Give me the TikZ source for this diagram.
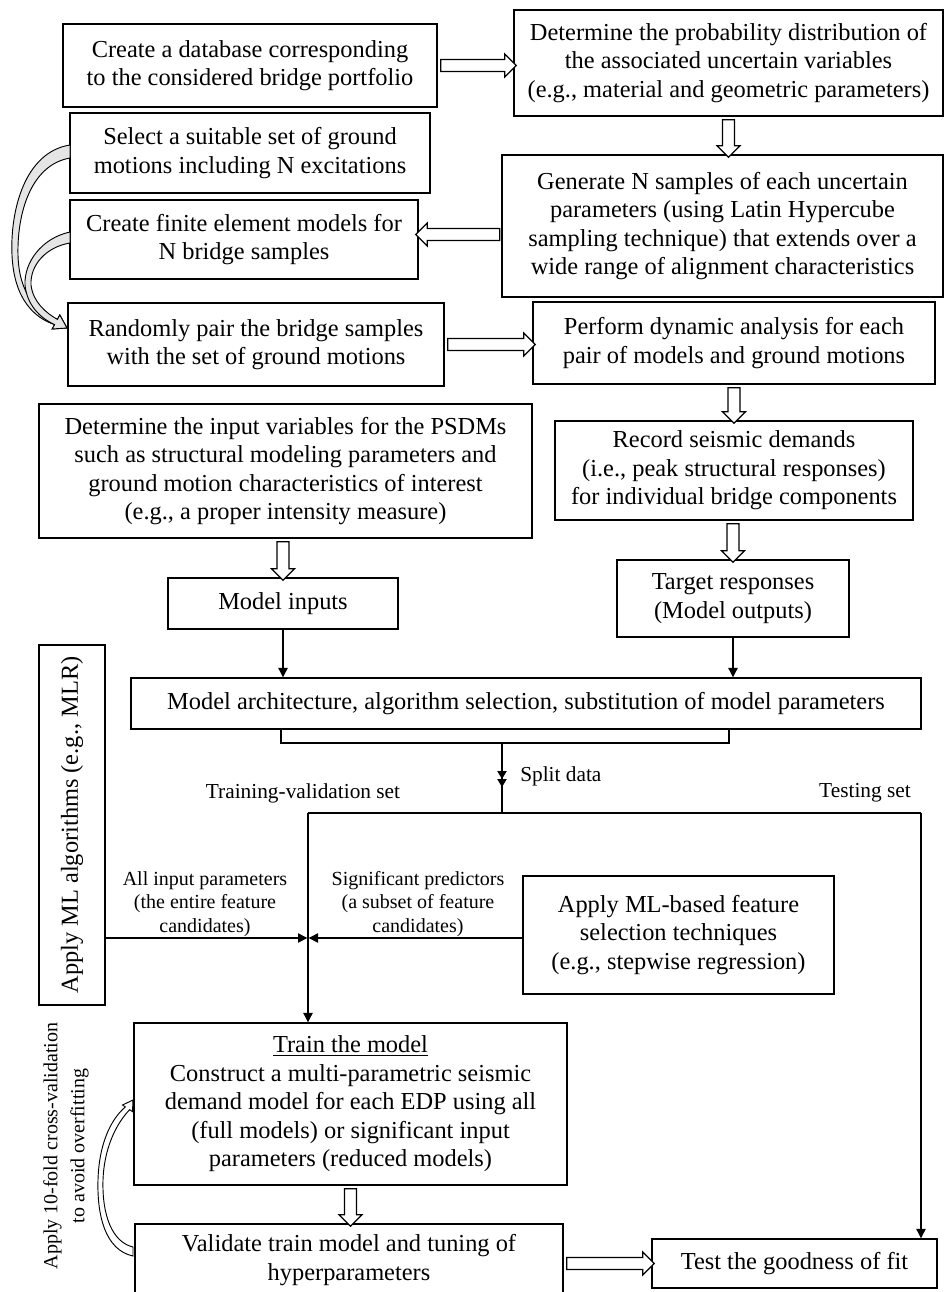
\documentclass[tikz,border=0pt]{standalone}
\usepackage{fontspec}
\setmainfont{Liberation Serif}
\usetikzlibrary{arrows.meta,shapes.arrows,calc}
\tikzset{
 box/.style={draw, line width=1.1pt, inner sep=0pt, align=center, font=\fontsize{18.3}{21.4}\selectfont},
 lbl/.style={inner sep=0pt, align=center, font=\fontsize{16}{19}\selectfont},
 sublbl/.style={inner sep=0pt, align=center, font=\fontsize{15}{17.6}\selectfont},
 hollow/.style={single arrow, draw, fill=white, line width=0.9pt, inner xsep=0pt, inner ysep=4.1pt,
   text height=0pt, text depth=0pt, single arrow head extend=4.1pt, single arrow tip angle=90,
   outer sep=0pt, minimum width=0pt},
 conn/.style={line width=0.9pt, -{Triangle[length=7pt,width=7pt]}},
 curved/.style={line width=0.7pt},
}
\newcommand\bx[7][]{\node[box,#1, minimum width={(#5-#3)*0.75pt}, minimum height={(#6-#4)*0.75pt}] (#2) at ({(#3+#5)/2},{(#4+#6)/2}) {#7};}
\newcommand\harrow[2]{\path let \p1=(#1), \p2=(#2), \n1={atan2(\y2-\y1,\x2-\x1)}, \n2={veclen(\x2-\x1,\y2-\y1)} in node[hollow, rotate=\n1, minimum height=\n2] at ($(\p1)!0.5!(\p2)$) {};}
\begin{document}
\begin{tikzpicture}[x=0.75pt,y=-0.75pt]
\useasboundingbox (0,0) rectangle (945,1292);
\fill[white] (0,0) rectangle (945,1292);
\clip (0,0) rectangle (945,1292);

% boxes
\bx{A}{63}{24}{437}{107}{Create a database corresponding\\to the considered bridge portfolio}
\bx{B}{514}{10}{943}{116}{Determine the probability distribution of\\the associated uncertain variables\\(e.g., material and geometric parameters)}
\bx{C}{502}{155}{943}{297}{Generate N samples of each uncertain\\parameters (using Latin Hypercube\\sampling technique) that extends over a\\wide range of alignment characteristics}
\bx{S}{70}{113}{430}{193}{Select a suitable set of ground\\motions including N excitations}
\bx{F}{70}{200}{418}{279}{Create finite element models for\\N bridge samples}
\bx{R}{68}{303}{444}{386}{Randomly pair the bridge samples\\with the set of ground motions}
\bx{P}{533}{302}{935}{384}{Perform dynamic analysis for each\\pair of models and ground motions}
\bx{D}{39}{404}{532}{538}{Determine the input variables for the PSDMs\\such as structural modeling parameters and\\ground motion characteristics of interest\\(e.g., a proper intensity measure)}
\bx{REC}{555}{421}{913}{520}{Record seismic demands\\(i.e., peak structural responses)\\for individual bridge components}
\bx{MI}{168}{578}{398}{629}{Model inputs}
\bx{T}{617}{560}{849}{637}{Target responses\\(Model outputs)}
\bx{MA}{131}{678}{921}{729}{Model architecture, algorithm selection, substitution of model parameters}
\bx{FS}{523}{876}{834}{994}{Apply ML-based feature\\selection techniques\\(e.g., stepwise regression)}
\bx{TR}{134}{1023}{567}{1185}{\underline{Train the model}\\Construct a multi-parametric seismic\\demand model for each EDP using all\\(full models) or significant input\\parameters (reduced models)}
\bx{V}{135}{1224}{563}{1296}{Validate train model and tuning of\\hyperparameters}
\bx{G}{652}{1239}{937}{1288}{Test the goodness of fit}
\node[box, rotate=90, minimum width={360*0.75pt}, minimum height={66*0.75pt}] (ML) at (72,825) {Apply ML algorithms (e.g., MLR)};

% labels
\node[lbl, anchor=west] (split) at (520,776) {Split data};
\node[lbl] (trv) at (303,793) {Training-validation set};
\node[lbl] (tst) at (865,793) {Testing set};
\node[sublbl] (allin) at (205,904) {All input parameters\\(the entire feature\\candidates)};
\node[sublbl] (sig) at (418,904) {Significant predictors\\(a subset of feature\\candidates)};
\node[rotate=90, align=center, inner sep=0pt, font=\fontsize{15}{20.3}\selectfont] (cv) at (66,1146) {Apply 10-fold cross-validation\\to avoid overfitting};

% hollow arrows
\harrow{A.east}{A.east -| B.west}
\harrow{B.south}{B.south |- C.north}
\harrow{$(F.east)+(84,-5)$}{$(F.east)+(0,-5)$}
\harrow{R.east}{R.east -| P.west}
\harrow{P.south}{P.south |- REC.north}
\harrow{MI.north |- D.south}{MI.north}
\harrow{T.north |- REC.south}{T.north}
\harrow{TR.south}{TR.south |- V.north}
\harrow{G.west -| V.east}{G.west}

% coordinates
\coordinate (bl) at (281,743);
\coordinate (br) at (729,743);
\coordinate (s1) at (502,743);
\coordinate (sm) at (502,787);
\coordinate (s2) at (502,813);
\coordinate (tv) at (308,813);
\coordinate (ts) at (921,813);
\coordinate (j) at (308,938);

% plain connectors
\draw[conn] (MI.south) -- (MI.south |- MA.north);
\draw[conn] (T.south) -- (T.south |- MA.north);
\draw[line width=0.9pt] (MA.south -| bl) -- (bl) -- (br) -- (MA.south -| br);
\draw[line width=0.9pt] (s1) -- (s2);
\draw[line width=0.9pt, -{Triangle[length=6pt,width=7pt] Triangle[length=6pt,width=7pt]}] (s1) -- (sm);
\draw[line width=0.9pt] (tv) -- (ts);
\draw[conn] (ts) -- (ts |- G.north);
\draw[conn] (tv) -- (tv |- TR.north);
\draw[conn, shorten >=0.5pt] (ML.south |- j) -- (j);
\draw[conn, shorten >=0.5pt] (FS.west |- j) -- (j);

% curved arrows (top left)
\filldraw[curved, fill=gray!20] (70,145) .. controls (25,152) and (10,210) .. (12,255) .. controls (14,300) and (35,318) .. (54.6,324.6) -- (52.2,329) -- (67,328) -- (59.8,315) -- (57.4,319.4) .. controls (38,313) and (19,295) .. (18,255) .. controls (17,215) and (30,165) .. (70,158) -- cycle;
\filldraw[curved, fill=gray!20] (70,232) .. controls (42,238) and (24,262) .. (25,285) .. controls (27,305) and (40,318) .. (54.6,324.6) -- (52.2,329) -- (67,328) -- (59.8,315) -- (57.4,319.4) .. controls (46,313) and (33,302) .. (31,285) .. controls (30,265) and (46,247) .. (70,243) -- cycle;
% curved arrow (bottom left)
\filldraw[curved, fill=white] (133,1256) .. controls (105,1250) and (97,1215) .. (98,1180) .. controls (99,1145) and (110,1120) .. (125.4,1106.9) -- (122.5,1105) -- (133,1100) -- (132.5,1111.6) -- (129.6,1109.7) .. controls (115,1125) and (104,1150) .. (103,1180) .. controls (102,1215) and (112,1242) .. (133,1247) -- cycle;
\end{tikzpicture}
\end{document}
